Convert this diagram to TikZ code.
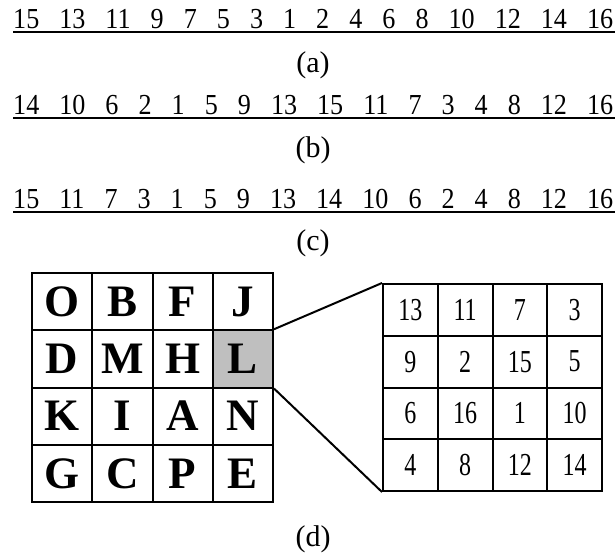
\documentclass[tikz,border=0pt]{standalone}
\usepackage{fontspec}
\setmainfont{Liberation Serif}
\newfontfamily\seqfont[FakeStretch=0.9]{Liberation Serif}
\newfontfamily\narrowserif[FakeStretch=0.75]{Liberation Serif}

\begin{document}
\begin{tikzpicture}[x=1pt, y=-1pt,
    seq/.style={anchor=base west, inner sep=0pt, font=\fontsize{29}{34}\seqfont},
    caption/.style={inner sep=0pt, font=\fontsize{30}{34}\selectfont},
    bar/.style={line width=2pt},
    letter/.style={rectangle, draw=black, line width=2pt, minimum width=60.25pt, minimum height=57.25pt, inner sep=0pt, font=\fontsize{45}{45}\selectfont\bfseries},
    hl L/.style={fill=gray!50},
    pixel/.style={rectangle, draw=black, line width=2pt, minimum width=54.75pt, minimum height=51.75pt, inner sep=0pt, font=\fontsize{32}{32}\narrowserif}
]
    \useasboundingbox (0,0) rectangle (615,554);

    % Orderings
    \node[seq] (rowa) at (13,28) {\makebox[600pt][s]{15 13 11 9 7 5 3 1 2 4 6 8 10 12 14 16}};
    \draw[bar] ([yshift=-4pt]rowa.base west) -- ([yshift=-4pt,xshift=2pt]rowa.base east);
    \node[caption] (capa) at (313,65) {(a)};

    \node[seq] (rowb) at (13,114) {\makebox[600pt][s]{14 10 6 2 1 5 9 13 15 11 7 3 4 8 12 16}};
    \draw[bar] ([yshift=-4pt]rowb.base west) -- ([yshift=-4pt,xshift=2pt]rowb.base east);
    \node[caption] (capb) at (313,150) {(b)};

    \node[seq] (rowc) at (13,208) {\makebox[600pt][s]{15 11 7 3 1 5 9 13 14 10 6 2 4 8 12 16}};
    \draw[bar] ([yshift=-4pt]rowc.base west) -- ([yshift=-4pt,xshift=2pt]rowc.base east);
    \node[caption] (capc) at (313,243) {(c)};

    % Letter blocks
    \foreach \line [count=\r] in {{O,B,F,J},{D,M,H,L},{K,I,A,N},{G,C,P,E}}
        \foreach \c [count=\k] in \line
            \node[letter, hl \c/.try] (let-\r-\k) at ({32+60.25*(\k-0.5)},{273+57.25*(\r-0.5)}) {\c};

    % Zoomed block
    \foreach \line [count=\r] in {{13,11,7,3},{9,2,15,5},{6,16,1,10},{4,8,12,14}}
        \foreach \n [count=\k] in \line
            \node[pixel] (num-\r-\k) at ({383+54.75*(\k-0.5)},{284+51.75*(\r-0.5)}) {\n};

    \draw[bar] (let-2-4.north east) -- (num-1-1.north west);
    \draw[bar] (let-2-4.south east) -- (num-4-1.south west);

    \node[caption] (capd) at (313,539) {(d)};
\end{tikzpicture}
\end{document}
